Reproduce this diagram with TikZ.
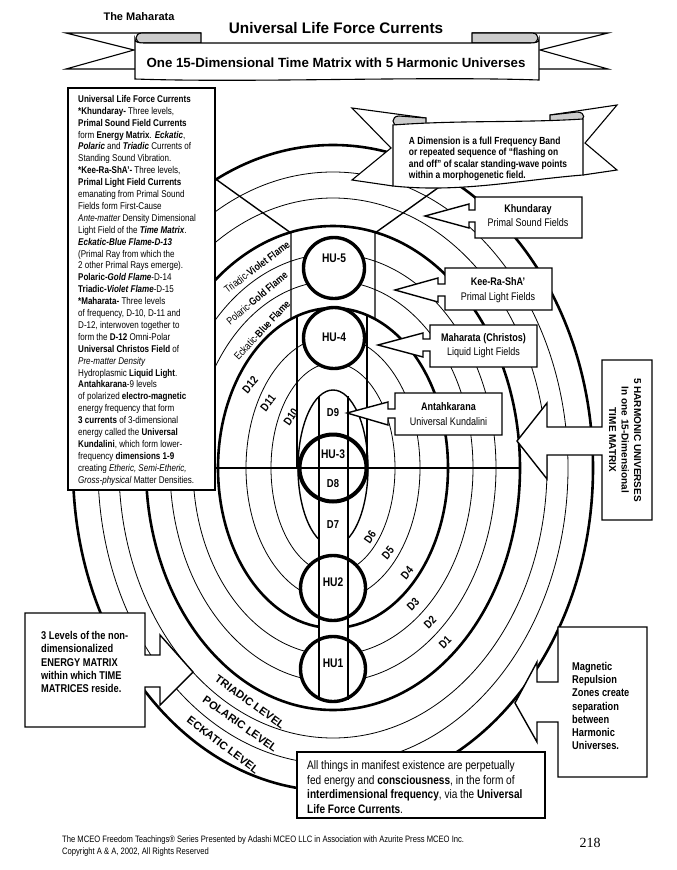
\documentclass[tikz,border=0pt]{standalone}
\usepackage{fontspec}
\setmainfont{Liberation Sans}
\newfontfamily\narf{Liberation Sans}[FakeStretch=0.82]
\newfontfamily\serf{Liberation Serif}
\begin{document}
\begin{tikzpicture}[x=1pt,y=-1pt,
 thinl/.style={line width=0.8pt},
 thickl/.style={line width=2.6pt},
 midl/.style={line width=1.4pt},
 bann/.style={line width=1.1pt,line join=miter},
 cbox/.style={draw,fill=white,line width=1.4pt,line join=miter},
 hucirc/.style={circle,draw,fill=white,line width=3.4pt,inner sep=0pt},
 hulab/.style={font=\narf\bfseries\fontsize{12.5}{13}\selectfont,inner sep=0pt},
 dlab/.style={font=\narf\bfseries\fontsize{11.5}{12}\selectfont,inner sep=0pt},
 flab/.style={font=\narf\fontsize{10.5}{12}\selectfont,inner sep=0pt},
 lvlab/.style={font=\bfseries\fontsize{11}{12}\selectfont,inner sep=0pt},
 ctext/.style={font=\narf\fontsize{11}{14.5}\selectfont,align=center,inner sep=0pt},
 btext/.style={font=\narf\bfseries\fontsize{11.3}{13.3}\selectfont,align=left,inner sep=0pt},
]
\useasboundingbox[fill=white] (0,0) rectangle (677,870);

% ---------------- concentric ellipses ----------------
\coordinate (O) at (333,468);
\draw[thickl] (O) ellipse[x radius=260pt,y radius=323pt];
\draw[thinl] (O) ellipse[x radius=235pt,y radius=296pt];
\draw[thinl] (O) ellipse[x radius=214pt,y radius=270pt];
\draw[thickl] (O) ellipse[x radius=187pt,y radius=242pt];
\draw[thinl] (O) ellipse[x radius=163pt,y radius=214pt];
\draw[thinl] (O) ellipse[x radius=140pt,y radius=187pt];
\draw[thickl] (O) ellipse[x radius=115pt,y radius=160pt];
\draw[thinl] (O) ellipse[x radius=87pt,y radius=132pt];
\draw[thinl] (O) ellipse[x radius=62pt,y radius=105pt];
\draw[midl] (O) ellipse[x radius=35pt,y radius=78pt];

% funnel and columns
\draw[midl] (217,180) -- (291,233) -- (291,319);
\draw[midl] (449,180) -- (375,233) -- (375,319);
\draw[midl] (297,316) -- (297,468);
\draw[midl] (367,316) -- (367,468);
\fill[white] (319.5,398) rectangle (347.5,700);

% HU circles
\node[hucirc,minimum size=61pt] (hu5) at (334,268) {};
\node[hucirc,minimum size=61pt] (hu4) at (334,338) {};
\node[hucirc,minimum size=67pt,line width=4pt] (hu3) at (333,468) {};
\node[hucirc,minimum size=65pt] (hu2) at (333,588) {};
\node[hucirc,minimum size=65pt] (hu1) at (333,669) {};

\draw[midl] (319,396) -- (319,700);
\draw[midl] (348,396) -- (348,700);
\draw[midl] (73,468) -- (520,468);

% labels in the column
\node[hulab] (l5) at (334,258) {HU-5};
\node[hulab] (l4) at (334,337) {HU-4};
\node[hulab] (l3) at (333,454) {HU-3};
\node[hulab] (l2) at (333,582) {HU2};
\node[hulab] (l1) at (333,663) {HU1};
\node[dlab] (d9) at (333,413) {D9};
\node[dlab] (d8) at (333,484) {D8};
\node[dlab] (d7) at (333,525) {D7};

% dimension labels
\node[dlab,rotate=50] (d12) at (250,385) {D12};
\node[dlab,rotate=52] (d11) at (268,403) {D11};
\node[dlab,rotate=55] (d10) at (291,417) {D10};
\node[dlab,rotate=55] (d6) at (370,537) {D6};
\node[dlab,rotate=50] (d5) at (388,553) {D5};
\node[dlab,rotate=50] (d4) at (407,573) {D4};
\node[dlab,rotate=45] (d3) at (413,604) {D3};
\node[dlab,rotate=45] (d2) at (430,622) {D2};
\node[dlab,rotate=45] (d1) at (445,642) {D1};

% flame labels
\node[flab,rotate=37] (fv) at (257,267) {Triadic-\textbf{Violet Flame}};
\node[flab,rotate=40] (fg) at (257,298) {Polaric-\textbf{Gold Flame}};
\node[flab,rotate=47] (fb) at (262,330) {Eckatic-\textbf{Blue Flame}};

% level labels
\node[lvlab,rotate=-36] (tl) at (250,702) {TRIADIC LEVEL};
\node[lvlab,rotate=-35] (pl) at (240,724) {POLARIC LEVEL};
\node[lvlab,rotate=-37] (el) at (223,745) {ECKATIC LEVEL};

% ---------------- title banner ----------------
\node[font=\bfseries\fontsize{11}{12}\selectfont,inner sep=0pt] (mah) at (139,17) {The Maharata};
\node[font=\bfseries\fontsize{15.3}{17}\selectfont,inner sep=0pt] (title) at (336,28) {Universal Life Force Currents};
\draw[bann] (201,33) -- (66,33) -- (134,50) -- (66,69) -- (137,69);
\draw[bann] (472,33) -- (608,33) -- (540,50) -- (608,69) -- (537,69);
\draw[bann,fill=gray!40] (201,43) -- (201,33) -- (142,33) .. controls (134,33) and (134,43) .. (142,43) -- cycle;
\draw[bann,fill=gray!40] (472,43) -- (472,33) -- (532,33) .. controls (540,33) and (540,43) .. (532,43) -- cycle;
\draw[bann,fill=white] (135,39) .. controls (135,42) and (138,43) .. (144,43) -- (530,43) .. controls (536,43) and (539,42) .. (539,39) -- (539,80) .. controls (420,76) and (250,83) .. (135,79) -- cycle;
\node[font=\bfseries\fontsize{13.3}{15}\selectfont,inner sep=0pt] (sub) at (336,63) {One 15-Dimensional Time Matrix with 5 Harmonic Universes};

% ---------------- left text box ----------------
\draw[line width=1.4pt,fill=white] (68,88) rectangle (215,490);
\node[anchor=north west,align=left,inner sep=0pt,font=\narf\fontsize{9.8}{11.9}\selectfont] (ltext) at (78,95) {%
\textbf{Universal Life Force Currents}\\
\textbf{*Khundaray-} Three levels,\\
\textbf{Primal Sound Field Currents}\\
form \textbf{Energy Matrix}. \textbf{\itshape Eckatic},\\
\textbf{\itshape Polaric} and \textbf{\itshape Triadic} Currents of\\
Standing Sound Vibration.\\
\textbf{*Kee-Ra-ShA’-} Three levels,\\
\textbf{Primal Light Field Currents}\\
emanating from Primal Sound\\
Fields form First-Cause\\
\textit{Ante-matter} Density Dimensional\\
Light Field of the \textbf{\itshape Time Matrix}.\\
\textbf{\itshape Eckatic-Blue Flame-D-13}\\
(Primal Ray from which the\\
2 other Primal Rays emerge).\\
\textbf{Polaric-\itshape Gold Flame}-D-14\\
\textbf{Triadic-\itshape Violet Flame}-D-15\\
\textbf{*Maharata-} Three levels\\
of frequency, D-10, D-11 and\\
D-12, interwoven together to\\
form the \textbf{D-12} Omni-Polar\\
\textbf{Universal Christos Field} of\\
\textit{Pre-matter Density}\\
Hydroplasmic \textbf{Liquid Light}.\\
\textbf{Antahkarana}-9 levels\\
of polarized \textbf{electro-magnetic}\\
energy frequency that form\\
\textbf{3 currents} of 3-dimensional\\
energy called the \textbf{Universal}\\
\textbf{Kundalini}, which form lower-\\
frequency \textbf{dimensions 1-9}\\
creating \textit{Etheric, Semi-Etheric,}\\
\textit{Gross-physical} Matter Densities.};

% ---------------- "A Dimension" banner ----------------
\draw[bann,fill=white] (426,118) -- (352,108) -- (391,148) -- (352,180) -- (393,186);
\draw[bann,fill=white] (550,115) -- (617,105) -- (585,143) -- (617,170) -- (583,175);
\draw[bann,fill=gray!40] (426,125) -- (426,118) -- (399,116) .. controls (391,116) and (391,126) .. (399,126) -- cycle;
\draw[bann,fill=gray!40] (550,124) -- (550,115) -- (577,112) .. controls (586,112) and (586,121) .. (577,121) -- cycle;
\draw[bann,fill=white] (393,125) .. controls (460,120) and (520,123) .. (583,119) -- (583,175) .. controls (520,180) and (460,193) .. (393,186) -- cycle;
\node[align=left,inner sep=0pt,font=\narf\bfseries\fontsize{10.3}{11.5}\selectfont] (dim) at (488,159) {A Dimension is a full Frequency Band\\or repeated sequence of “flashing on\\and off” of scalar standing-wave points\\within a morphogenetic field.};

% ---------------- callouts ----------------
\draw[cbox] (475,197) -- (582,197) -- (582,238) -- (475,238) -- (475,222) -- (469,222) -- (469,228) -- (425,216) -- (469,204) -- (469,210) -- (475,210) -- cycle;
\node[ctext] (khu) at (528,215.5) {\textbf{Khundaray}\\Primal Sound Fields};

\draw[cbox] (445,268) -- (552,268) -- (552,310) -- (445,310) -- (445,296) -- (438,296) -- (438,302) -- (395,290) -- (438,278) -- (438,284) -- (445,284) -- cycle;
\node[ctext] (kee) at (498,290) {\textbf{Kee-Ra-ShA’}\\Primal Light Fields};

\draw[cbox] (430,325) -- (537,325) -- (537,367) -- (430,367) -- (430,351) -- (423,351) -- (423,357) -- (378,345) -- (423,333) -- (423,339) -- (430,339) -- cycle;
\node[ctext] (mhc) at (483.5,345.5) {\textbf{Maharata (Christos)}\\Liquid Light Fields};

\draw[cbox] (395,393) -- (502,393) -- (502,435) -- (395,435) -- (395,418) -- (388,418) -- (388,425) -- (347,413) -- (388,402) -- (388,409) -- (395,409) -- cycle;
\node[ctext] (ant) at (448.5,414) {\textbf{Antahkarana}\\Universal Kundalini};

\draw[cbox] (602,360) -- (652,360) -- (652,520) -- (602,520) -- (602,455) -- (547,455) -- (547,479) -- (517,441) -- (547,403) -- (547,427) -- (602,427) -- cycle;
\node[rotate=-90,align=center,inner sep=0pt,font=\bfseries\fontsize{10}{12.5}\selectfont] (fhu) at (625,440) {5 HARMONIC UNIVERSES\\In one 15-Dimensional\\TIME MATRIX};

\draw[cbox] (558,627) -- (647,627) -- (647,777) -- (558,777) -- (558,722) -- (537,722) -- (537,742) -- (515,703) -- (537,662) -- (537,682) -- (558,682) -- cycle;
\node[btext,anchor=west] (mag) at (572,706) {Magnetic\\Repulsion\\Zones create\\separation\\between\\Harmonic\\Universes.};

\draw[cbox] (25,613) -- (145,613) -- (145,655) -- (160,655) -- (160,635) -- (193,672) -- (160,705) -- (160,687) -- (145,687) -- (145,727) -- (25,727) -- cycle;
\node[btext,anchor=west] (lev) at (41,662) {3 Levels of the non-\\dimensionalized\\ENERGY MATRIX\\within which TIME\\MATRICES reside.};

\draw[cbox] (297,752) rectangle (545,818);
\node[anchor=west,align=left,inner sep=0pt,font=\narf\fontsize{12.3}{14.8}\selectfont] (all) at (307,787) {All things in manifest existence are perpetually\\fed energy and \textbf{consciousness}, in the form of\\\textbf{interdimensional frequency}, via the \textbf{Universal}\\\textbf{Life Force Currents}.};

% ---------------- footer ----------------
\node[anchor=west,inner sep=0pt,font=\narf\fontsize{9.3}{10}\selectfont] (f1) at (62,840) {The MCEO Freedom Teachings® Series Presented by Adashi MCEO LLC in Association with Azurite Press MCEO Inc.};
\node[anchor=west,inner sep=0pt,font=\narf\fontsize{9.3}{10}\selectfont] (f2) at (62,852) {Copyright A \& A, 2002, All Rights Reserved};
\node[inner sep=0pt,font=\serf\fontsize{14}{16}\selectfont] (pg) at (590,843) {218};
\end{tikzpicture}
\end{document}
